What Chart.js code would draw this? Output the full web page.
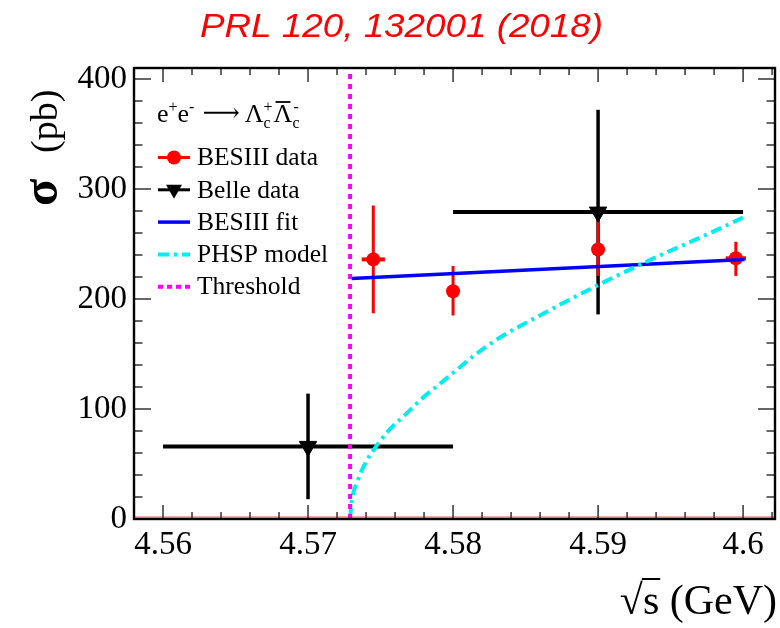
<!DOCTYPE html>
<html><head><meta charset="utf-8">
<script src="https://cdn.jsdelivr.net/npm/chart.js@4.4.0/dist/chart.umd.min.js"></script>
<style>html,body{margin:0;padding:0;background:#fff;}#wrap{width:780px;height:628px;}</style>
</head><body><div id="wrap"><canvas id="c" width="780" height="628"></canvas></div>
<script>
// ---- data ----
const chartTitle = "PRL 120, 132001 (2018)";
const xTickValues = [4.56, 4.57, 4.58, 4.59, 4.60];
const xTickLabels = ["4.56", "4.57", "4.58", "4.59", "4.6"];
const yTickValues = [0, 100, 200, 300, 400];
const yTickLabels = ["0", "100", "200", "300", "400"];

const besiiiE = [4.5745, 4.5800, 4.5900, 4.5995];
const besiiiSigma = [236, 207, 245, 237];
const besiiiErrUp = [49, 23, 25, 15];
const besiiiErrDown = [49, 22, 24, 16];
const besiiiEErr = [0.0008, 0, 0, 0.0007];

const belleE = [4.570, 4.590];
const belleSigma = [66, 279];
const belleErr = [48, 93];
const belleEErr = [0.010, 0.010];

const fitE = [4.5730, 4.6001];
const fitSigma = [218.6, 235.8];

const phspE = [4.5729, 4.5730, 4.5734, 4.5740, 4.5747, 4.5756, 4.5768, 4.5779, 4.5791, 4.5802, 4.5814, 4.5830, 4.5864, 4.5899, 4.5940, 4.5979, 4.6003];
const phspSigma = [0, 15, 34, 52, 66, 81, 96, 110, 123, 135, 148, 163, 188, 212, 238, 261, 276];

const thresholdE = 4.5729;

const legendLabels = ["BESIII data", "Belle data", "BESIII fit", "PHSP model", "Threshold"];

// ---- axis ranges ----
const X_MIN = 4.558, X_MAX = 4.6022, Y_MIN = 0, Y_MAX = 410;

const RED = '#ff0000', BLUE = '#0000ff', CYAN = '#00eeee', MAGENTA = '#ff00ff', BLACK = '#000000';
const SERIF = '"Liberation Serif", "Times New Roman", serif';

function seg(p1, p2, color, width, extra) {
  return Object.assign({ type: 'scatter', showLine: true, data: [p1, p2], borderColor: color, borderWidth: width,
    pointRadius: 0, borderCapStyle: 'butt', fill: false }, extra || {});
}

const datasets = [];
// top-most first
datasets.push(seg({x: thresholdE, y: Y_MIN}, {x: thresholdE, y: Y_MAX}, MAGENTA, 4, {borderDash: [5, 5]}));
datasets.push({ type: 'scatter', showLine: true, data: phspE.map((e, i) => ({x: e, y: phspSigma[i]})),
  borderColor: CYAN, borderWidth: 4, borderDash: [11, 5, 3, 5], pointRadius: 0, fill: false,
  cubicInterpolationMode: 'monotone' });
datasets.push({ type: 'scatter', showLine: true, data: fitE.map((e, i) => ({x: e, y: fitSigma[i]})),
  borderColor: BLUE, borderWidth: 3.5, pointRadius: 0, fill: false });
datasets.push({ type: 'scatter', data: belleE.map((e, i) => ({x: e, y: belleSigma[i]})),
  pointStyle: 'triangle', rotation: 180, pointRadius: 10, backgroundColor: BLACK, borderColor: BLACK, borderWidth: 1 });
datasets.push({ type: 'scatter', data: besiiiE.map((e, i) => ({x: e, y: besiiiSigma[i]})),
  pointStyle: 'circle', pointRadius: 7, backgroundColor: RED, borderColor: RED, borderWidth: 0 });
besiiiE.forEach((e, i) => {
  datasets.push(seg({x: e, y: besiiiSigma[i] - besiiiErrDown[i]}, {x: e, y: besiiiSigma[i] + besiiiErrUp[i]}, RED, 3));
  if (besiiiEErr[i] > 0) datasets.push(seg({x: e - besiiiEErr[i], y: besiiiSigma[i]}, {x: e + besiiiEErr[i], y: besiiiSigma[i]}, RED, 4));
});
belleE.forEach((e, i) => {
  datasets.push(seg({x: e, y: belleSigma[i] - belleErr[i]}, {x: e, y: belleSigma[i] + belleErr[i]}, BLACK, 3.5));
  datasets.push(seg({x: e - belleEErr[i], y: belleSigma[i]}, {x: e + belleEErr[i], y: belleSigma[i]}, BLACK, 4));
});

const framePlugin = {
  id: 'frame',
  afterDatasetsDraw(chart) {
    const ctx = chart.ctx, a = chart.chartArea, xs = chart.scales.x, ys = chart.scales.y;
    ctx.save();
    ctx.strokeStyle = 'rgba(230,40,40,0.8)'; ctx.lineWidth = 1;
    ctx.beginPath(); ctx.moveTo(a.left, ys.getPixelForValue(0) - 2); ctx.lineTo(a.right, ys.getPixelForValue(0) - 2); ctx.stroke();
    ctx.strokeStyle = '#333'; ctx.lineWidth = 1.5;
    for (let k = 0; k <= 22; k++) {
      const v = 4.558 + k * 0.002;
      const px = xs.getPixelForValue(v);
      if (px <= a.left + 2 || px >= a.right - 2) continue;
      const major = xTickValues.some(t => Math.abs(t - v) < 1e-6);
      const L = major ? 14 : 7;
      ctx.beginPath(); ctx.moveTo(px, a.bottom); ctx.lineTo(px, a.bottom - L); ctx.stroke();
      ctx.beginPath(); ctx.moveTo(px, a.top); ctx.lineTo(px, a.top + L); ctx.stroke();
    }
    for (let v = 20; v <= 400; v += 20) {
      const py = ys.getPixelForValue(v);
      const major = v % 100 === 0;
      const L = major ? 17 : 8.5;
      ctx.beginPath(); ctx.moveTo(a.left, py); ctx.lineTo(a.left + L, py); ctx.stroke();
      ctx.beginPath(); ctx.moveTo(a.right, py); ctx.lineTo(a.right - L, py); ctx.stroke();
    }
    ctx.strokeStyle = '#000'; ctx.lineWidth = 2.4;
    ctx.strokeRect(a.left, a.top, a.right - a.left, a.bottom - a.top);

    // legend
    const lx0 = 158, lx1 = 190, tx = 197;
    const rows = legendLabels.map((_, i) => 157.5 + i * 32.3);
    ctx.lineCap = 'butt';
    ctx.strokeStyle = RED; ctx.lineWidth = 3;
    ctx.beginPath(); ctx.moveTo(lx0, rows[0]); ctx.lineTo(lx1, rows[0]); ctx.stroke();
    ctx.fillStyle = RED; ctx.beginPath(); ctx.arc(174, rows[0], 7, 0, Math.PI * 2); ctx.fill();
    ctx.strokeStyle = BLACK; ctx.lineWidth = 3;
    ctx.beginPath(); ctx.moveTo(lx0, rows[1]); ctx.lineTo(lx1, rows[1]); ctx.stroke();
    ctx.fillStyle = BLACK; ctx.beginPath();
    ctx.moveTo(174 - 8, rows[1] - 5); ctx.lineTo(174 + 8, rows[1] - 5); ctx.lineTo(174, rows[1] + 9); ctx.closePath(); ctx.fill();
    ctx.strokeStyle = BLUE; ctx.lineWidth = 3.5;
    ctx.beginPath(); ctx.moveTo(lx0, rows[2]); ctx.lineTo(lx1, rows[2]); ctx.stroke();
    ctx.strokeStyle = CYAN; ctx.lineWidth = 4; ctx.setLineDash([11, 5, 3, 5]);
    ctx.beginPath(); ctx.moveTo(lx0, rows[3]); ctx.lineTo(lx1, rows[3]); ctx.stroke();
    ctx.strokeStyle = MAGENTA; ctx.setLineDash([5, 4]);
    ctx.beginPath(); ctx.moveTo(lx0, rows[4]); ctx.lineTo(lx1, rows[4]); ctx.stroke();
    ctx.setLineDash([]);
    ctx.fillStyle = '#000'; ctx.font = '25.5px ' + SERIF; ctx.textBaseline = 'middle'; ctx.textAlign = 'left';
    legendLabels.forEach((t, i) => ctx.fillText(t, tx, rows[i] + 1));

    // header e+e- -> Lambda_c+ anti-Lambda_c-
    ctx.textBaseline = 'alphabetic';
    const base = 122, big = '26px ' + SERIF, small = '16px ' + SERIF;
    let x = 157;
    const put = (s, f, dy) => { ctx.font = f; ctx.fillText(s, x, base + dy); const w = ctx.measureText(s).width; x += w; return w; };
    put('e', big, 0); put('+', small, -10); put('e', big, 0); put('-', small, -10);
    x += 8; put('\u27F6', '26px "DejaVu Serif", ' + SERIF, -1); x += 5;
    put('\u039B', big, 0);
    let xc = x; ctx.font = small; ctx.fillText('c', xc, base + 6); ctx.fillText('+', xc, base - 10);
    x += ctx.measureText('+').width + 1;
    const lamStart = x; const lw = put('\u039B', big, 0);
    ctx.lineWidth = 1.8; ctx.strokeStyle = '#000';
    ctx.beginPath(); ctx.moveTo(lamStart + 2, base - 20); ctx.lineTo(lamStart + lw - 2, base - 20); ctx.stroke();
    ctx.font = small; ctx.fillText('c', x, base + 6); ctx.fillText('-', x + 1, base - 10);
    ctx.restore();
  },
  afterDraw(chart) {
    const ctx = chart.ctx;
    ctx.save();
    ctx.fillStyle = '#ff0000'; ctx.font = 'italic 33px "Liberation Sans", Arial, sans-serif';
    ctx.textBaseline = 'alphabetic'; ctx.textAlign = 'left';
    const tw = ctx.measureText(chartTitle).width, target = 403;
    ctx.translate(200, 37); ctx.scale(target / tw, 1); ctx.fillText(chartTitle, 0, 0);
    ctx.restore();

    ctx.save();
    ctx.fillStyle = '#000'; ctx.translate(57, 206); ctx.rotate(-Math.PI / 2);
    ctx.textAlign = 'left'; ctx.textBaseline = 'alphabetic';
    ctx.font = 'bold 50px ' + SERIF; ctx.fillText('\u03C3', 0, 0);
    ctx.font = '38px ' + SERIF; ctx.fillText('(pb)', 53, 0);
    ctx.restore();

    ctx.save();
    ctx.fillStyle = '#000'; ctx.textAlign = 'left'; ctx.textBaseline = 'alphabetic';
    ctx.font = '42px ' + SERIF;
    const wr = ctx.measureText('\u221A').width, ws = ctx.measureText('s').width, wg = ctx.measureText(' (GeV)').width;
    const x0 = 777 - (wr + ws + wg), by = 614;
    ctx.fillText('\u221A', x0, by); ctx.fillText('s', x0 + wr, by); ctx.fillText(' (GeV)', x0 + wr + ws, by);
    ctx.strokeStyle = '#000'; ctx.lineWidth = 2;
    ctx.beginPath(); ctx.moveTo(x0 + wr - 1, by - 35); ctx.lineTo(x0 + wr + ws + 1, by - 35); ctx.stroke();
    ctx.restore();
  }
};

new Chart(document.getElementById('c').getContext('2d'), {
  type: 'scatter',
  data: { datasets },
  options: {
    responsive: false, animation: false, devicePixelRatio: 1,
    layout: { autoPadding: false, padding: { top: 68, right: 5, left: 0, bottom: 0 } },
    plugins: { legend: { display: false }, tooltip: { enabled: false }, title: { display: false } },
    scales: {
      x: {
        type: 'linear', min: X_MIN, max: X_MAX,
        grid: { display: false, drawTicks: false }, border: { display: false },
        afterBuildTicks: s => { s.ticks = xTickValues.map(v => ({ value: v })); },
        afterFit: s => { s.height = 109; s.paddingLeft = 0; s.paddingRight = 0; },
        ticks: { autoSkip: false, maxRotation: 0, minRotation: 0, padding: 7, color: '#000',
          font: { family: SERIF, size: 33 }, callback: (v, i) => xTickLabels[i] }
      },
      y: {
        type: 'linear', min: Y_MIN, max: Y_MAX,
        grid: { display: false, drawTicks: false }, border: { display: false },
        afterBuildTicks: s => { s.ticks = yTickValues.map(v => ({ value: v })); },
        afterFit: s => { s.width = 134; s.paddingTop = 0; s.paddingBottom = 0; },
        ticks: { autoSkip: false, padding: 7, color: '#000',
          font: { family: SERIF, size: 33 }, callback: (v, i) => yTickLabels[i] }
      }
    }
  },
  plugins: [framePlugin]
});
</script></body></html>
